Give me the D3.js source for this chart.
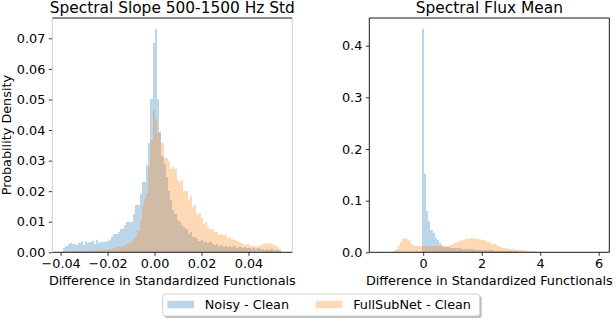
<!DOCTYPE html>
<html>
<head>
<meta charset="utf-8">
<script src="https://cdn.jsdelivr.net/npm/d3@7"></script>
<style>
  body { margin: 0; background: #fff; }
  svg { display: block; font-family: "DejaVu Sans", sans-serif; }
</style>
</head>
<body>
<div class="content"></div>
<script>
// bin ranges (first left edge, last right edge), 100 bins each
var slopeRange = [-0.0389, 0.0540];
var fluxRange = [-1.47, 5.99];

// fraction of samples per bin
var slopeNoisy = [
  0.0015, 0.0022, 0.0026, 0.0030, 0.0027, 0.0028, 0.0024, 0.0031, 0.0036, 0.0025,
  0.0037, 0.0030, 0.0033, 0.0037, 0.0028, 0.0039, 0.0032, 0.0033, 0.0035, 0.0035,
  0.0038, 0.0040, 0.0050, 0.0061, 0.0061, 0.0065, 0.0077, 0.0077, 0.0090, 0.0098,
  0.0098, 0.0098, 0.0125, 0.0156, 0.0156, 0.0190, 0.0230, 0.0230, 0.0284, 0.0356,
  0.0500, 0.0686, 0.0730, 0.0500, 0.0394, 0.0314, 0.0290, 0.0246, 0.0200, 0.0170,
  0.0140, 0.0126, 0.0105, 0.0099, 0.0090, 0.0082, 0.0075, 0.0060, 0.0068, 0.0050,
  0.0049, 0.0042, 0.0038, 0.0040, 0.0035, 0.0033, 0.0030, 0.0033, 0.0028, 0.0024,
  0.0026, 0.0022, 0.0024, 0.0020, 0.0022, 0.0018, 0.0021, 0.0017, 0.0019, 0.0015,
  0.0018, 0.0016, 0.0014, 0.0017, 0.0013, 0.0015, 0.0012, 0.0014, 0.0011, 0.0013,
  0.0010, 0.0012, 0.0009, 0.0011, 0.0008, 0.0010, 0.0007, 0.0008, 0.0006, 0.0005
];
var slopeFull = [
  0.0001, 0.0002, 0.0001, 0.0003, 0.0002, 0.0003, 0.0002, 0.0004, 0.0003, 0.0004,
  0.0005, 0.0004, 0.0006, 0.0005, 0.0004, 0.0006, 0.0005, 0.0006, 0.0006, 0.0008,
  0.0010, 0.0012, 0.0012, 0.0014, 0.0016, 0.0016, 0.0018, 0.0020, 0.0022, 0.0026,
  0.0030, 0.0038, 0.0045, 0.0050, 0.0071, 0.0104, 0.0153, 0.0175, 0.0190, 0.0280,
  0.0366, 0.0465, 0.0437, 0.0390, 0.0390, 0.0356, 0.0310, 0.0310, 0.0300, 0.0273,
  0.0280, 0.0273, 0.0235, 0.0230, 0.0235, 0.0202, 0.0202, 0.0170, 0.0185, 0.0148,
  0.0155, 0.0126, 0.0130, 0.0112, 0.0093, 0.0100, 0.0085, 0.0077, 0.0077, 0.0066,
  0.0066, 0.0055, 0.0060, 0.0055, 0.0056, 0.0048, 0.0050, 0.0042, 0.0040, 0.0036,
  0.0034, 0.0030, 0.0028, 0.0025, 0.0027, 0.0022, 0.0020, 0.0022, 0.0018, 0.0020,
  0.0024, 0.0026, 0.0030, 0.0028, 0.0032, 0.0026, 0.0025, 0.0020, 0.0018, 0.0012
];
var fluxNoisy = [
  0, 0, 0, 0, 0, 0, 0, 0, 0, 0,
  0, 0, 0, 0, 0, 0, 0, 0, 0, 0.432,
  0.151, 0.080, 0.060, 0.044, 0.037, 0.028, 0.023, 0.018, 0.014, 0.011,
  0.010, 0.0095, 0.0090, 0.0086, 0.0082, 0.0080, 0.0076, 0.0072, 0.0069, 0.0066,
  0.0065, 0.0060, 0.0057, 0.0054, 0.0052, 0.0050, 0.0047, 0.0044, 0.0041, 0.0040,
  0.0038, 0.0035, 0.0033, 0.0031, 0.0030, 0.0028, 0.0026, 0.0024, 0.0022, 0.0021,
  0.0020, 0.0018, 0.0016, 0.0014, 0.0013, 0.0012, 0.0010, 0.0009, 0.0008, 0.0007,
  0.0006, 0.0005, 0.0004, 0.0004, 0.0003, 0.0003, 0.0002, 0.0002, 0.0002, 0.0001,
  0.0001, 0.0001, 0.0001, 0.0001, 0.0001, 0.0001, 0, 0, 0.0001, 0,
  0, 0, 0, 0, 0, 0, 0, 0, 0, 0.0001
];
var fluxFull = [
  0, 0, 0.0002, 0, 0.0003, 0.0005, 0.002, 0.006, 0.012, 0.020,
  0.026, 0.028, 0.025, 0.022, 0.017, 0.013, 0.012, 0.013, 0.012, 0.013,
  0.012, 0.013, 0.012, 0.012, 0.013, 0.012, 0.012, 0.013, 0.012, 0.013,
  0.013, 0.013, 0.014, 0.016, 0.018, 0.020, 0.022, 0.023, 0.024, 0.025,
  0.026, 0.027, 0.027, 0.026, 0.026, 0.025, 0.024, 0.023, 0.022, 0.020,
  0.019, 0.017, 0.016, 0.014, 0.012, 0.011, 0.009, 0.008, 0.007, 0.0065,
  0.0060, 0.0055, 0.0050, 0.0045, 0.0040, 0.0038, 0.0035, 0.0032, 0.0030, 0.0028,
  0.0022, 0.0015, 0.0008, 0, 0, 0, 0, 0, 0, 0,
  0, 0, 0, 0, 0, 0, 0, 0, 0, 0,
  0, 0, 0, 0, 0, 0, 0, 0, 0, 0
];

var slopeXTicks = [-0.04, -0.02, 0.00, 0.02, 0.04];
var slopeYTicks = [0, 0.01, 0.02, 0.03, 0.04, 0.05, 0.06, 0.07];
var fluxXTicks = [0, 2, 4, 6];
var fluxYTicks = [0, 0.1, 0.2, 0.3, 0.4];

var seriesNames = ['Noisy - Clean', 'FullSubNet - Clean'];
var colors = ['#1f77b4', '#ff7f0e'];

var W = 616, H = 318;
var svg = d3.select('.content').append('svg')
    .attr('width', W)
    .attr('height', H);

var fontSize = 12.8;

function drawPanel(opts) {
    var x0 = opts.left, x1 = opts.left + 240, y0 = 18, y1 = 252.3;
    var lo = opts.range[0], hi = opts.range[1];
    var pad = (hi - lo) * 0.05;
    var maxVal = d3.max(opts.series, function(s) { return d3.max(s); });

    var x = d3.scaleLinear().domain([lo - pad, hi + pad]).range([x0, x1]);
    var y = d3.scaleLinear().domain([0, maxVal * 1.05]).range([y1, y0]);

    var g = svg.append('g');

    opts.series.forEach(function(vals, si) {
        var n = vals.length;
        var bw = (hi - lo) / n;
        g.append('g').selectAll('rect')
            .data(vals.map(function(v, i) { return {v: v, i: i}; }).filter(function(d) { return d.v > 0; }))
            .enter().append('rect')
            .attr('x', function(d) { return x(lo + d.i * bw); })
            .attr('width', function(d) { return x(lo + (d.i + 1) * bw) - x(lo + d.i * bw); })
            .attr('y', function(d) { return y(d.v); })
            .attr('height', function(d) { return y(0) - y(d.v); })
            .attr('fill', colors[si])
            .attr('fill-opacity', 0.3)
            .attr('shape-rendering', 'crispEdges');
    });

    var xAxis = d3.axisBottom(x)
        .tickValues(opts.xTicks)
        .tickFormat(opts.xFormat)
        .tickSizeOuter(0)
        .tickSize(3.5)
        .tickPadding(3);
    var yAxis = d3.axisLeft(y)
        .tickValues(opts.yTicks)
        .tickFormat(opts.yFormat)
        .tickSizeOuter(0)
        .tickSize(3.5)
        .tickPadding(3.5);

    var gx = g.append('g').attr('transform', 'translate(0,' + y1 + ')').call(xAxis);
    var gy = g.append('g').attr('transform', 'translate(' + x0 + ',0)').call(yAxis);
    [gx, gy].forEach(function(a) {
        a.select('.domain').remove();
        a.selectAll('text')
            .attr('font-family', '"DejaVu Sans", sans-serif')
            .attr('font-size', fontSize)
            .attr('fill', '#000');
        a.selectAll('line').attr('stroke', '#000').attr('stroke-width', 0.8);
    });

    // spines
    g.append('line').attr('x1', x0).attr('x2', x1).attr('y1', y0).attr('y2', y0)
        .attr('stroke', '#000').attr('stroke-width', 0.9);
    g.append('line').attr('x1', x0).attr('x2', x1).attr('y1', y1).attr('y2', y1)
        .attr('stroke', '#000').attr('stroke-width', 0.9);
    g.append('line').attr('x1', x0).attr('x2', x0).attr('y1', y0).attr('y2', y1)
        .attr('stroke', opts.sideColor).attr('stroke-width', 0.9);
    g.append('line').attr('x1', x1).attr('x2', x1).attr('y1', y0).attr('y2', y1)
        .attr('stroke', opts.sideColor).attr('stroke-width', 0.9);

    g.append('text')
        .attr('x', (x0 + x1) / 2)
        .attr('y', 12.5)
        .attr('text-anchor', 'middle')
        .attr('font-size', 15.4)
        .text(opts.title);

    g.append('text')
        .attr('x', (x0 + x1) / 2)
        .attr('y', 284.5)
        .attr('text-anchor', 'middle')
        .attr('font-size', fontSize)
        .text('Difference in Standardized Functionals');

    if (opts.ylabel) {
        g.append('text')
            .attr('transform', 'translate(11,' + ((y0 + y1) / 2) + ') rotate(-90)')
            .attr('text-anchor', 'middle')
            .attr('font-size', fontSize)
            .text(opts.ylabel);
    }
}

drawPanel({
    left: 52.3,
    range: slopeRange,
    series: [slopeNoisy, slopeFull],
    xTicks: slopeXTicks,
    yTicks: slopeYTicks,
    xFormat: d3.format('.2f'),
    yFormat: d3.format('.2f'),
    title: 'Spectral Slope 500-1500 Hz Std',
    ylabel: 'Probability Density',
    sideColor: '#c8c8c8'
});

drawPanel({
    left: 369.3,
    range: fluxRange,
    series: [fluxNoisy, fluxFull],
    xTicks: fluxXTicks,
    yTicks: fluxYTicks,
    xFormat: d3.format('d'),
    yFormat: d3.format('.1f'),
    title: 'Spectral Flux Mean',
    ylabel: null,
    sideColor: '#000'
});

// legend
var lg = svg.append('g');
lg.append('rect')
    .attr('x', 164.7).attr('y', 296)
    .attr('width', 317).attr('height', 22)
    .attr('rx', 2.5)
    .attr('fill', '#808080').attr('fill-opacity', 0.5);
lg.append('rect')
    .attr('x', 162.7).attr('y', 294)
    .attr('width', 317).attr('height', 22)
    .attr('rx', 2.5)
    .attr('fill', '#fff')
    .attr('stroke', '#cccccc').attr('stroke-width', 0.9);

var legendItems = [
    {name: seriesNames[0], color: colors[0], x: 167.3},
    {name: seriesNames[1], color: colors[1], x: 315.7}
];
legendItems.forEach(function(d) {
    lg.append('rect')
        .attr('x', d.x).attr('y', 300.8)
        .attr('width', 26.7).attr('height', 7.4)
        .attr('fill', d.color).attr('fill-opacity', 0.3);
    lg.append('text')
        .attr('x', d.x + 37.5).attr('y', 308.5)
        .attr('font-size', fontSize)
        .text(d.name);
});
</script>
</body>
</html>
